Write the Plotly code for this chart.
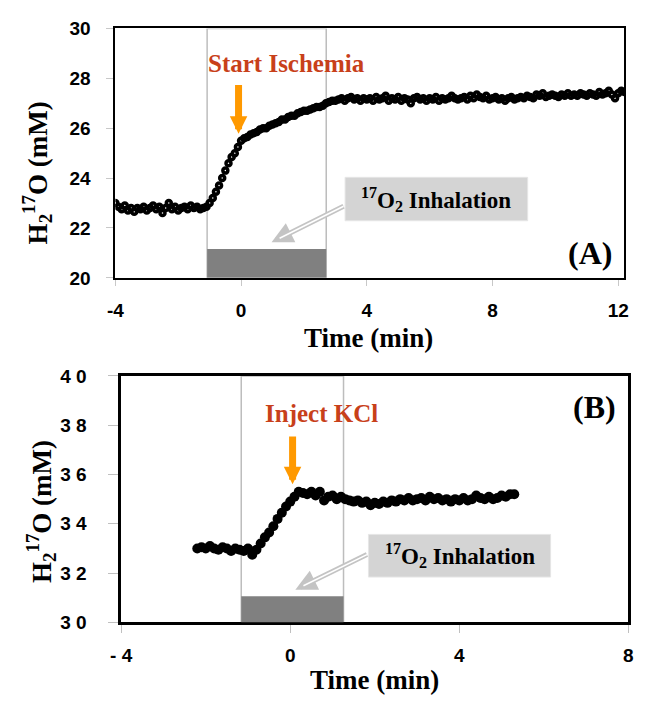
import plotly.graph_objects as go

# ---------------- Panel A data ----------------
time_a = [
    -4.0, -3.9, -3.8, -3.7, -3.6, -3.5, -3.4, -3.3, -3.2, -3.1,
    -3.0, -2.9, -2.8, -2.7, -2.6, -2.5, -2.4, -2.3, -2.2, -2.1,
    -2.0, -1.9, -1.8, -1.7, -1.6, -1.5, -1.4, -1.3, -1.2, -1.1,
    -1.0, -0.9, -0.8, -0.7, -0.6, -0.5, -0.4, -0.3, -0.2, -0.1,
    0.0, 0.1, 0.2, 0.3, 0.4, 0.5, 0.6, 0.7, 0.8, 0.9,
    1.0, 1.1, 1.2, 1.3, 1.4, 1.5, 1.6, 1.7, 1.8, 1.9,
    2.0, 2.1, 2.2, 2.3, 2.4, 2.5, 2.6, 2.7, 2.8, 2.9,
    3.0, 3.1, 3.2, 3.3, 3.4, 3.5, 3.6, 3.7, 3.8, 3.9,
    4.0, 4.1, 4.2, 4.3, 4.4, 4.5, 4.6, 4.7, 4.8, 4.9,
    5.0, 5.1, 5.2, 5.3, 5.4, 5.5, 5.6, 5.7, 5.8, 5.9,
    6.0, 6.1, 6.2, 6.3, 6.4, 6.5, 6.6, 6.7, 6.8, 6.9,
    7.0, 7.1, 7.2, 7.3, 7.4, 7.5, 7.6, 7.7, 7.8, 7.9,
    8.0, 8.1, 8.2, 8.3, 8.4, 8.5, 8.6, 8.7, 8.8, 8.9,
    9.0, 9.1, 9.2, 9.3, 9.4, 9.5, 9.6, 9.7, 9.8, 9.9,
    10.0, 10.1, 10.2, 10.3, 10.4, 10.5, 10.6, 10.7, 10.8, 10.9,
    11.0, 11.1, 11.2, 11.3, 11.4, 11.5, 11.6, 11.7, 11.8, 11.9,
    12.0, 12.1, 12.2,
]
h2o_a = [
    23.0, 22.85, 22.75, 22.9, 22.7, 22.8, 22.65, 22.8, 22.75, 22.85,
    22.7, 22.8, 22.9, 22.75, 22.85, 22.6, 22.8, 23.0, 22.75, 22.85,
    22.7, 22.8, 22.85, 22.75, 22.9, 22.8, 22.85, 22.75, 22.8, 22.85,
    23.0, 23.2, 23.45, 23.7, 24.0, 24.3, 24.6, 24.85, 25.0, 25.25,
    25.5, 25.6, 25.65, 25.75, 25.8, 25.85, 25.95, 26.0, 26.0, 26.1,
    26.15, 26.2, 26.25, 26.35, 26.35, 26.45, 26.5, 26.5, 26.6, 26.65,
    26.7, 26.7, 26.75, 26.8, 26.85, 26.85, 26.9, 27.0, 27.05, 27.1,
    27.1, 27.15, 27.2, 27.1, 27.2, 27.25, 27.15, 27.2, 27.1, 27.2,
    27.15, 27.2, 27.1, 27.25, 27.15, 27.2, 27.3, 27.1, 27.2, 27.15,
    27.25, 27.1, 27.2, 27.15, 27.0, 27.2, 27.25, 27.15, 27.2, 27.1,
    27.2, 27.15, 27.25, 27.1, 27.2, 27.15, 27.2, 27.3, 27.2, 27.15,
    27.2, 27.25, 27.15, 27.3, 27.2, 27.35, 27.25, 27.2, 27.3, 27.15,
    27.2, 27.25, 27.15, 27.2, 27.1, 27.2, 27.25, 27.15, 27.2, 27.25,
    27.2, 27.3, 27.25, 27.2, 27.35, 27.3, 27.4, 27.25, 27.3, 27.35,
    27.3, 27.25, 27.35, 27.3, 27.4, 27.3, 27.35, 27.3, 27.4, 27.35,
    27.3, 27.4, 27.35, 27.3, 27.45, 27.35, 27.4, 27.5, 27.35, 27.2,
    27.4, 27.5, 27.45,
]

# ---------------- Panel B data ----------------
time_b = [
    -2.2, -2.1, -2.0, -1.9, -1.8, -1.7, -1.6, -1.5, -1.4, -1.3,
    -1.2, -1.1, -1.0, -0.9, -0.8, -0.7, -0.6, -0.5, -0.4, -0.3,
    -0.2, -0.1, 0.0, 0.1, 0.2, 0.3, 0.4, 0.5, 0.6, 0.7,
    0.8, 0.9, 1.0, 1.1, 1.2, 1.3, 1.4, 1.5, 1.6, 1.7,
    1.8, 1.9, 2.0, 2.1, 2.2, 2.3, 2.4, 2.5, 2.6, 2.7,
    2.8, 2.9, 3.0, 3.1, 3.2, 3.3, 3.4, 3.5, 3.6, 3.7,
    3.8, 3.9, 4.0, 4.1, 4.2, 4.3, 4.4, 4.5, 4.6, 4.7,
    4.8, 4.9, 5.0, 5.1, 5.2, 5.3,
]
h2o_b = [
    33.0, 33.05, 33.0, 33.1, 33.0, 32.95, 33.05, 33.0, 32.9, 33.0,
    32.95, 32.9, 33.0, 32.75, 32.95, 33.2, 33.45, 33.65, 33.9, 34.2,
    34.45, 34.7, 34.9, 35.1, 35.3, 35.25, 35.2, 35.3, 35.15, 35.3,
    34.95, 35.1, 35.15, 35.0, 35.1, 35.0, 34.95, 34.9, 34.95, 34.85,
    34.9, 34.75, 34.85, 34.8, 34.9, 34.85, 34.95, 34.9, 35.0, 34.95,
    35.05, 34.95, 35.0, 35.05, 34.95, 35.1, 35.0, 35.05, 34.95, 35.0,
    34.9, 35.0, 34.95, 35.05, 34.95, 35.0, 35.15, 35.05, 35.0, 35.1,
    35.0, 35.05, 35.15, 35.1, 35.2, 35.2,
]

ticks_a_x = [-4, 0, 4, 8, 12]
ticks_a_y = [20, 22, 24, 26, 28, 30]
ticks_b_x = [-4, 0, 4, 8]
ticklabels_b_x = ["- 4", "0", "4", "8"]
ticks_b_y = [30, 32, 34, 36, 38, 40]
ticklabels_b_y = ["3 0", "3 2", "3 4", "3 6", "3 8", "4 0"]

SERIF = "Liberation Serif"
SANS = "Liberation Sans"
tickfont = dict(family=SANS, size=19, color="black", weight="bold")

fig = go.Figure()
fig.add_trace(go.Scatter(
    x=time_a, y=h2o_a, mode="markers", xaxis="x", yaxis="y", showlegend=False,
    marker=dict(symbol="circle-open", size=5, color="black", line=dict(width=3.5, color="black")),
))
fig.add_trace(go.Scatter(
    x=time_b, y=h2o_b, mode="markers", xaxis="x2", yaxis="y2", showlegend=False,
    marker=dict(symbol="circle", size=10, color="black"),
))

common_ax = dict(showgrid=False, zeroline=False, showline=True, mirror=True, linecolor="black")

fig.update_layout(
    width=648, height=713,
    margin=dict(l=0, r=0, t=0, b=0),
    paper_bgcolor="white", plot_bgcolor="white",
    xaxis=dict(domain=[107 / 648, 629 / 648], range=[-4, 12.2], anchor="y",
               tickvals=ticks_a_x, ticktext=[str(v) for v in ticks_a_x],
               ticks="outside", ticklen=6, tickcolor="#c8c8c8", tickwidth=1,
               linewidth=2, tickfont=tickfont, ticklabelstandoff=8, **common_ax),
    yaxis=dict(domain=[1 - 276 / 713, 1 - 19 / 713], range=[20, 30], anchor="x",
               tickvals=ticks_a_y, ticktext=[str(v) for v in ticks_a_y],
               ticks="outside", ticklen=7, tickcolor="#c8c8c8", tickwidth=1,
               linewidth=2, tickfont=tickfont, ticklabelstandoff=12, **common_ax),
    xaxis2=dict(domain=[113 / 648, 633 / 648], range=[-4, 8], anchor="y2",
                tickvals=ticks_b_x, ticktext=ticklabels_b_x,
                ticks="outside", ticklen=8, tickcolor="#c0c0c0", tickwidth=1,
                linewidth=2.5, tickfont=tickfont, ticklabelstandoff=6, **common_ax),
    yaxis2=dict(domain=[1 - 631 / 713, 1 - 377 / 713], range=[30, 40], anchor="x2",
                tickvals=ticks_b_y, ticktext=ticklabels_b_y,
                ticks="outside", ticklen=10, tickcolor="#c0c0c0", tickwidth=1,
                linewidth=2.5, tickfont=tickfont, ticklabelstandoff=18, **common_ax),
)

shapes = [
    # Panel A: inhalation window, bar, label box
    dict(type="rect", xref="x", yref="y", x0=-1.08, x1=2.71, y0=20, y1=30,
         line=dict(color="#bdbdbd", width=1.5), fillcolor="rgba(0,0,0,0)", layer="below"),
    dict(type="rect", xref="x", yref="y", x0=-1.08, x1=2.71, y0=20, y1=21.16,
         line=dict(width=0), fillcolor="#808080", layer="above"),
    dict(type="rect", xref="x", yref="y", x0=3.31, x1=9.12, y0=22.29, y1=24.03,
         line=dict(color="#e6e6e6", width=1), fillcolor="#d4d4d4", layer="above"),
    # Panel B
    dict(type="rect", xref="x2", yref="y2", x0=-1.16, x1=1.26, y0=30, y1=40,
         line=dict(color="#bdbdbd", width=1.5), fillcolor="rgba(0,0,0,0)", layer="below"),
    dict(type="rect", xref="x2", yref="y2", x0=-1.16, x1=1.26, y0=30, y1=31.06,
         line=dict(width=0), fillcolor="#808080", layer="above"),
    dict(type="rect", xref="x2", yref="y2", x0=1.85, x1=6.16, y0=31.84, y1=33.57,
         line=dict(color="#e6e6e6", width=1), fillcolor="#d4d4d4", layer="above"),
]
fig.update_layout(shapes=shapes)

ORANGE = "#FF9900"
RED = "#C8401A"
GRAY_ARROW = "#c4c4c4"

def hollow_arrow(xr, yr, x, y, ax, ay):
    return [
        dict(xref=xr, yref=yr, axref=xr, ayref=yr, x=x, y=y, ax=ax, ay=ay, text="",
             showarrow=True, arrowhead=2, arrowsize=0.85, arrowwidth=5, arrowcolor=GRAY_ARROW),
        dict(xref=xr, yref=yr, axref=xr, ayref=yr, x=x, y=y, ax=ax, ay=ay, text="",
             showarrow=True, arrowhead=0, arrowwidth=1.6, arrowcolor="white", standoff=9),
    ]

def label(xr, yr, x, y, text, size, color="black", angle=0):
    return dict(xref=xr, yref=yr, x=x, y=y, text=text, showarrow=False, textangle=angle,
                xanchor="center", yanchor="middle",
                font=dict(family=SERIF, size=size, color=color, weight="bold"))

annotations = [
    # Panel A
    label("x", "y", 1.46, 28.6, "Start Ischemia", 25, RED),
    dict(xref="x", yref="y", axref="x", ayref="y", x=-0.08, y=25.78, ax=-0.08, ay=27.79,
         text="", showarrow=True, arrowhead=2, arrowsize=0.5, arrowwidth=7, arrowcolor=ORANGE),
    label("x", "y", 6.215, 23.16, "<sup>17</sup>O<sub>2</sub> Inhalation", 23),
    label("x", "y", 11.1, 21.0, "(A)", 32),
    label("paper", "paper", 367 / 648, 1 - 338 / 713, "Time (min)", 27),
    label("paper", "paper", 27 / 648, 1 - 168 / 713, "H<sub>2</sub><sup>17</sup>O (mM)", 27, angle=-90),
    # Panel B
    label("x2", "y2", 0.73, 38.47, "Inject KCl", 25, RED),
    dict(xref="x2", yref="y2", axref="x2", ayref="y2", x=0.055, y=35.6, ax=0.055, ay=37.6,
         text="", showarrow=True, arrowhead=2, arrowsize=0.5, arrowwidth=7, arrowcolor=ORANGE),
    label("x2", "y2", 4.005, 32.7, "<sup>17</sup>O<sub>2</sub> Inhalation", 23),
    label("x2", "y2", 7.2, 38.75, "(B)", 32),
    label("paper", "paper", 373 / 648, 1 - 690 / 713, "Time (min)", 27),
    label("paper", "paper", 31 / 648, 1 - 517 / 713, "H<sub>2</sub><sup>17</sup>O (mM)", 27, angle=-90),
]
annotations += hollow_arrow("x", "y", 0.97, 21.43, 3.31, 22.9)
annotations += hollow_arrow("x2", "y2", 0.12, 31.33, 1.85, 32.78)
fig.update_layout(annotations=annotations)

fig.write_html(
    "out.html",
    config={"displayModeBar": False},
    post_script="document.body.style.margin='0px';document.body.style.overflow='hidden';",
)
